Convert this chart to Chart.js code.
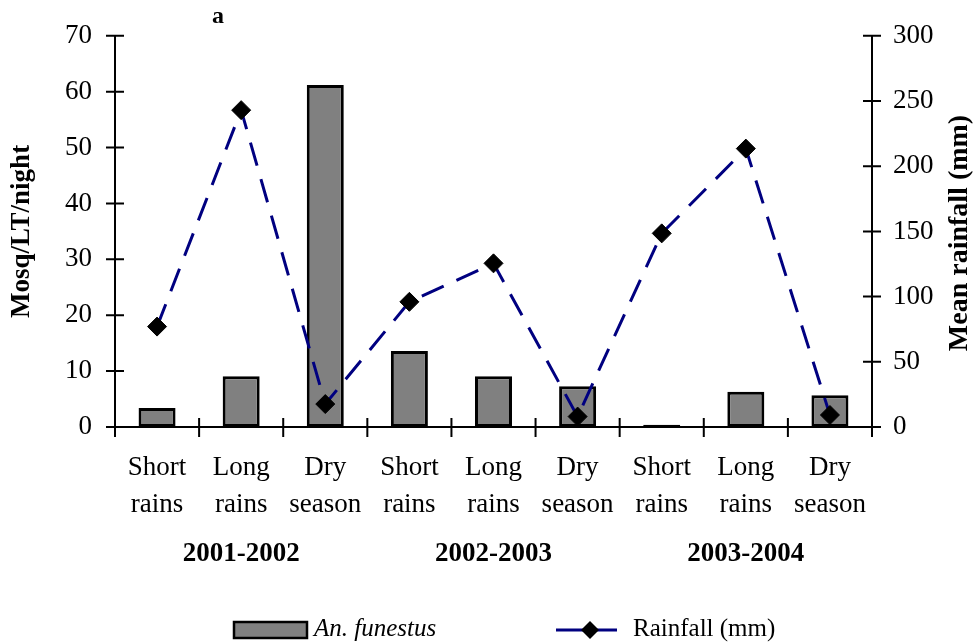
<!DOCTYPE html>
<html>
<head>
<meta charset="utf-8">
<script src="https://cdn.jsdelivr.net/npm/chart.js@4"></script>
<style>
  html, body { margin: 0; padding: 0; background: #fff; }
  #chart { display: block; }
</style>
</head>
<body>
<canvas id="chart" width="973" height="642"></canvas>
<script>
// data
const seasons = [['Short', 'rains'], ['Long', 'rains'], ['Dry', 'season']];
const years = ['2001-2002', '2002-2003', '2003-2004'];
const funestus = [3.4, 9.1, 61.2, 13.6, 9.1, 7.3, 0.4, 6.3, 5.7];
const rainfall = [77, 243, 17.6, 96, 125.5, 8, 148.5, 213.5, 9.2];
const leftMax = 70, leftStep = 10;
const rightMax = 300, rightStep = 50;

const labels = [];
const yearLabels = [];
years.forEach(function(yr) {
    seasons.forEach(function(s, i) {
        labels.push(s);
        yearLabels.push(i === 1 ? yr : '');
    });
});

const serif = "'Liberation Serif', 'Times New Roman', serif";

// ticks that cross the axis lines, panel letter, right title, legend
const extras = {
    id: 'extras',
    afterDraw: function(chart) {
        const ctx = chart.ctx;
        const area = chart.chartArea;
        const x = chart.scales.x, y = chart.scales.y, y1 = chart.scales.y1;
        ctx.save();
        ctx.strokeStyle = '#000';
        ctx.lineWidth = 2;
        ctx.beginPath();
        y.ticks.forEach(function(t) {
            const py = y.getPixelForValue(t.value);
            ctx.moveTo(area.left - 9, py); ctx.lineTo(area.left + 9, py);
        });
        y1.ticks.forEach(function(t) {
            const py = y1.getPixelForValue(t.value);
            ctx.moveTo(area.right - 9, py); ctx.lineTo(area.right + 9, py);
        });
        const half = (x.getPixelForValue(1) - x.getPixelForValue(0)) / 2;
        for (let i = 0; i <= labels.length; i++) {
            const px = x.getPixelForValue(0) - half + i * 2 * half;
            ctx.moveTo(px, area.bottom - 9); ctx.lineTo(px, area.bottom + 10);
        }
        ctx.stroke();

        // panel letter
        ctx.fillStyle = '#000';
        ctx.font = 'bold 24px ' + serif;
        ctx.textAlign = 'center';
        ctx.textBaseline = 'middle';
        ctx.fillText('a', 218, 17);

        // right axis title (reads bottom to top)
        ctx.save();
        ctx.translate(960, 233);
        ctx.rotate(-Math.PI / 2);
        ctx.font = 'bold 28px ' + serif;
        ctx.fillText('Mean rainfall (mm)', 0, 0);
        ctx.restore();

        // legend
        const ly = 630;
        ctx.fillStyle = '#808080';
        ctx.fillRect(234, 622, 73, 16);
        ctx.lineWidth = 2.5;
        ctx.strokeRect(234, 622, 73, 16);
        ctx.fillStyle = '#000';
        ctx.textAlign = 'left';
        ctx.font = 'italic 25px ' + serif;
        ctx.fillText('An. funestus', 314, ly - 1);

        ctx.strokeStyle = '#000080';
        ctx.lineWidth = 3;
        ctx.beginPath();
        ctx.moveTo(556, ly); ctx.lineTo(617, ly);
        ctx.stroke();
        ctx.fillStyle = '#000';
        ctx.beginPath();
        ctx.moveTo(590, ly - 9); ctx.lineTo(599, ly); ctx.lineTo(590, ly + 9); ctx.lineTo(581, ly);
        ctx.closePath();
        ctx.fill();
        ctx.font = '25px ' + serif;
        ctx.fillText('Rainfall (mm)', 633, ly - 1);
        ctx.restore();
    }
};

const ctx = document.getElementById('chart').getContext('2d');
new Chart(ctx, {
    type: 'bar',
    data: {
        labels: labels,
        datasets: [
            {
                type: 'line',
                label: 'Rainfall (mm)',
                data: rainfall,
                yAxisID: 'y1',
                borderColor: '#000080',
                borderWidth: 3,
                borderDash: [24, 14],
                tension: 0,
                fill: false,
                pointStyle: 'rectRot',
                pointRadius: 9.5,
                pointBackgroundColor: '#000',
                pointBorderColor: '#000',
                pointBorderWidth: 1,
                order: 1
            },
            {
                label: 'An. funestus',
                data: funestus,
                yAxisID: 'y',
                backgroundColor: '#808080',
                borderColor: '#000',
                borderWidth: 3,
                borderSkipped: false,
                barPercentage: 0.44,
                categoryPercentage: 1,
                order: 2
            }
        ]
    },
    options: {
        responsive: false,
        animation: false,
        layout: { padding: { top: 33, left: 0, right: 0, bottom: 0 } },
        plugins: {
            legend: { display: false },
            tooltip: { enabled: false }
        },
        scales: {
            x: {
                position: 'bottom',
                grid: { display: false, drawTicks: false },
                border: { display: true, color: '#000', width: 2 },
                ticks: {
                    color: '#000',
                    autoSkip: false,
                    maxRotation: 0,
                    padding: 22,
                    font: { family: serif, size: 27, lineHeight: 37 / 27 }
                },
                afterFit: function(s) { s.height = 100; }
            },
            x2: {
                type: 'category',
                position: 'bottom',
                labels: yearLabels,
                offset: true,
                grid: { display: false, drawTicks: false },
                border: { display: false },
                ticks: {
                    color: '#000',
                    autoSkip: false,
                    maxRotation: 0,
                    padding: 12,
                    font: { family: serif, size: 27, weight: 'bold', lineHeight: 30 / 27 }
                },
                afterFit: function(s) { s.height = 115; }
            },
            y: {
                position: 'left',
                min: 0,
                max: leftMax,
                grid: { display: false, drawTicks: false },
                border: { display: true, color: '#000', width: 2 },
                ticks: {
                    stepSize: leftStep,
                    color: '#000',
                    padding: 23,
                    font: { family: serif, size: 27, lineHeight: 0.95 }
                },
                title: {
                    display: true,
                    text: 'Mosq/LT/night',
                    color: '#000',
                    padding: { top: 9, bottom: 0 },
                    font: { family: serif, size: 27, weight: 'bold', lineHeight: 1 }
                },
                afterFit: function(s) { s.width = 115; }
            },
            y1: {
                position: 'right',
                min: 0,
                max: rightMax,
                grid: { display: false, drawTicks: false },
                border: { display: true, color: '#000', width: 2 },
                ticks: {
                    stepSize: rightStep,
                    color: '#000',
                    padding: 21,
                    font: { family: serif, size: 27, lineHeight: 0.95 }
                },
                afterFit: function(s) { s.width = 101; }
            }
        }
    },
    plugins: [extras]
});
</script>
</body>
</html>
